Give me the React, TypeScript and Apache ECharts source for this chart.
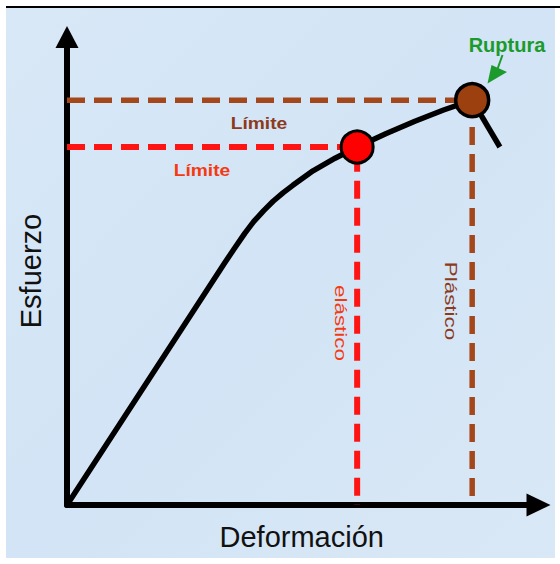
import { useEffect, useRef } from "react";
import * as echarts from "echarts";

// Stress–strain curve (arbitrary units, 0–100 on both axes)
const strain = [0, 33.5, 35.9, 37.9, 39.8, 41.9, 43.9, 46.0, 48.1, 52.4, 57.1, 61.8, 68.0, 74.1, 80.2, 86.3];
const stress = [0, 51.6, 55.2, 58.1, 60.6, 62.9, 64.9, 66.7, 68.3, 71.4, 74.1, 76.5, 79.4, 82.0, 84.4, 86.5];
const elasticLimit = [61.8, 76.5];
const ruptureLimit = [86.3, 86.5];
const fractureTail = [92.2, 76.5];

const axisNames = ["Deformación", "Esfuerzo"];
const labelTexts = ["Límite", "elástico", "Plástico", "Ruptura"];

export default function App() {
  const ref = useRef<HTMLDivElement>(null);

  useEffect(() => {
    if (!ref.current) return;
    const chart = echarts.init(ref.current, null, { renderer: "svg" });
    const RED = "#ff1414";
    const BROWN = "#a4481c";
    const TXT_RED = "#f53a12";
    const TXT_BROWN = "#8c3a1c";
    const GREEN = "#1c9a2c";
    const FONT = "'Liberation Sans', Arial, sans-serif";

    const curve = strain.map((x, i) => [x, stress[i]]);

    chart.setOption({
      animation: false,
      grid: { left: 67, top: 37, right: 23.5, bottom: 59 },
      xAxis: {
        type: "value",
        min: 0,
        max: 100,
        name: axisNames[0],
        nameLocation: "middle",
        nameGap: 17,
        nameTextStyle: { fontSize: 29, color: "#111", fontFamily: FONT },
        axisLine: {
          show: true,
          symbol: ["none", "triangle"],
          symbolSize: [23, 24],
          symbolOffset: [0, 2],
          lineStyle: { color: "#000", width: 6 },
        },
        axisTick: { show: false },
        axisLabel: { show: false },
        splitLine: { show: false },
      },
      yAxis: {
        type: "value",
        min: 0,
        max: 100,
        name: axisNames[1],
        nameLocation: "middle",
        nameGap: 22,
        nameTextStyle: { fontSize: 29, color: "#111", fontFamily: FONT },
        axisLine: {
          show: true,
          symbol: ["none", "triangle"],
          symbolSize: [23, 22],
          lineStyle: { color: "#000", width: 6 },
        },
        axisTick: { show: false },
        axisLabel: { show: false },
        splitLine: { show: false },
      },
      graphic: [
        {
          type: "rect",
          z: -100,
          silent: true,
          shape: { x: 6, y: 7, width: 549, height: 551 },
          style: {
            fill: {
              type: "linear",
              x: 0,
              y: 0,
              x2: 1,
              y2: 1,
              colorStops: [
                { offset: 0, color: "#d8e8f7" },
                { offset: 0.5, color: "#d2e4f5" },
                { offset: 1, color: "#d9e8f6" },
              ],
            },
          },
        },
        {
          type: "line",
          z: -90,
          silent: true,
          shape: { x1: 6, y1: 7, x2: 560, y2: 7 },
          style: { stroke: "#000", lineWidth: 2 },
        },
        {
          type: "text",
          z: 100,
          x: 259,
          y: 124,
          scaleX: 1.2,
          style: {
            text: labelTexts[0],
            fill: TXT_BROWN,
            font: `bold 16px ${FONT}`,
            align: "center",
            verticalAlign: "middle",
          },
        },
        {
          type: "text",
          z: 100,
          x: 202,
          y: 171,
          scaleX: 1.2,
          style: {
            text: labelTexts[0],
            fill: TXT_RED,
            font: `bold 16px ${FONT}`,
            align: "center",
            verticalAlign: "middle",
          },
        },
        {
          type: "text",
          z: 100,
          x: 341,
          y: 323,
          rotation: -Math.PI / 2,
          scaleX: 1.4,
          style: {
            text: labelTexts[1],
            fill: TXT_RED,
            font: `16px ${FONT}`,
            align: "center",
            verticalAlign: "middle",
          },
        },
        {
          type: "text",
          z: 100,
          x: 451,
          y: 301,
          rotation: -Math.PI / 2,
          scaleX: 1.4,
          style: {
            text: labelTexts[2],
            fill: TXT_BROWN,
            font: `16px ${FONT}`,
            align: "center",
            verticalAlign: "middle",
          },
        },
        {
          type: "text",
          z: 100,
          x: 507,
          y: 44.5,
          style: {
            text: labelTexts[3],
            fill: GREEN,
            font: `bold 20px ${FONT}`,
            align: "center",
            verticalAlign: "middle",
          },
        },
        {
          type: "line",
          z: 100,
          shape: { x1: 502.5, y1: 55, x2: 497.5, y2: 69 },
          style: { stroke: GREEN, lineWidth: 2 },
        },
        {
          type: "polygon",
          z: 100,
          shape: { points: [[487.5, 83.5], [491.5, 65], [507, 72]] },
          style: { fill: GREEN },
        },
      ],
      series: [
        {
          type: "line",
          data: [[0, ruptureLimit[1]], ruptureLimit, [ruptureLimit[0], 0]],
          symbol: "none",
          lineStyle: { color: BROWN, width: 5.5, type: [18, 9] },
          z: 1,
          silent: true,
        },
        {
          type: "line",
          data: [[0, elasticLimit[1]], elasticLimit, [elasticLimit[0], 0]],
          symbol: "none",
          lineStyle: { color: RED, width: 6, type: [18, 9] },
          z: 1,
          silent: true,
        },
        {
          type: "line",
          data: curve,
          symbol: "none",
          smooth: false,
          lineStyle: { color: "#000", width: 5.5, join: "round" },
          z: 3,
          silent: true,
        },
        {
          type: "line",
          data: [ruptureLimit, fractureTail],
          symbol: "none",
          lineStyle: { color: "#000", width: 5.5 },
          z: 3,
          silent: true,
        },
        {
          type: "scatter",
          data: [elasticLimit],
          symbolSize: 32,
          itemStyle: { color: "#ff0000", borderColor: "#000", borderWidth: 3, opacity: 1 },
          z: 5,
          silent: true,
        },
        {
          type: "scatter",
          data: [ruptureLimit],
          symbolSize: 33,
          itemStyle: { color: "#9c4010", borderColor: "#000", borderWidth: 3.5, opacity: 1 },
          z: 5,
          silent: true,
        },
      ],
    });
    return () => chart.dispose();
  }, []);

  return (
    <div
      ref={ref}
      style={{ position: "absolute", left: 0, top: 0, width: 560, height: 564, background: "#fff" }}
    />
  );
}
